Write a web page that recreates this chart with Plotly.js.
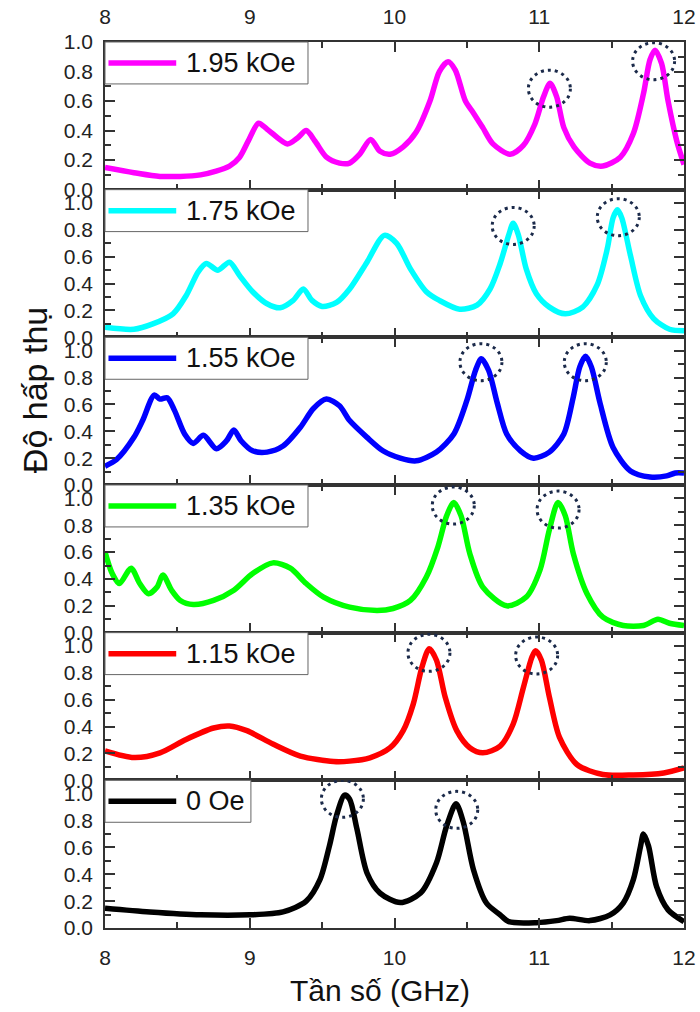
<!DOCTYPE html>
<html><head><meta charset="utf-8">
<script src="https://cdn.plot.ly/plotly-3.0.1.min.js"></script>
<style>html,body{margin:0;padding:0;background:#fff}#chart{width:700px;height:1012px}</style>
</head><body><div id="chart"></div>
<script>
// ---------- data ----------
const seriesNames = ["1.95 kOe", "1.75 kOe", "1.55 kOe", "1.35 kOe", "1.15 kOe", "0 Oe"];
const seriesColors = ["#ff00ff", "#00ffff", "#0000ff", "#00ff00", "#ff0000", "#000000"];

const freq195 = [8.0, 8.2, 8.38, 8.66, 8.86, 8.93, 8.99, 9.06, 9.12, 9.26, 9.33, 9.39, 9.45, 9.53, 9.62, 9.69, 9.76, 9.835, 9.90, 9.97, 10.06, 10.15, 10.245, 10.31, 10.37, 10.42, 10.49, 10.545, 10.61, 10.68, 10.80, 10.89, 10.97, 11.03, 11.075, 11.12, 11.17, 11.24, 11.35, 11.44, 11.56, 11.65, 11.72, 11.765, 11.80, 11.845, 11.89, 11.95, 12.0];
const abs195 = [0.15, 0.115, 0.09, 0.10, 0.16, 0.22, 0.33, 0.45, 0.41, 0.31, 0.35, 0.40, 0.33, 0.22, 0.18, 0.18, 0.24, 0.34, 0.26, 0.24, 0.29, 0.39, 0.60, 0.80, 0.866, 0.81, 0.60, 0.52, 0.42, 0.31, 0.24, 0.30, 0.445, 0.63, 0.72, 0.63, 0.42, 0.29, 0.18, 0.16, 0.22, 0.38, 0.65, 0.88, 0.945, 0.855, 0.60, 0.33, 0.17];

const freq175 = [8.0, 8.2, 8.33, 8.47, 8.56, 8.645, 8.70, 8.78, 8.86, 8.93, 9.02, 9.12, 9.21, 9.30, 9.37, 9.43, 9.50, 9.60, 9.69, 9.81, 9.93, 10.015, 10.11, 10.22, 10.31, 10.45, 10.57, 10.66, 10.73, 10.79, 10.82, 10.855, 10.91, 10.98, 11.07, 11.18, 11.30, 11.40, 11.47, 11.51, 11.54, 11.57, 11.63, 11.70, 11.79, 11.90, 12.0];
const abs175 = [0.075, 0.06, 0.10, 0.175, 0.31, 0.49, 0.55, 0.50, 0.56, 0.46, 0.34, 0.25, 0.22, 0.275, 0.36, 0.275, 0.23, 0.26, 0.36, 0.56, 0.76, 0.70, 0.51, 0.34, 0.275, 0.21, 0.24, 0.36, 0.55, 0.765, 0.85, 0.765, 0.51, 0.325, 0.225, 0.175, 0.225, 0.39, 0.66, 0.89, 0.95, 0.89, 0.61, 0.31, 0.14, 0.06, 0.05];

const freq155 = [8.0, 8.08, 8.2, 8.26, 8.34, 8.38, 8.43, 8.48, 8.55, 8.61, 8.68, 8.77, 8.84, 8.89, 8.94, 9.02, 9.12, 9.23, 9.35, 9.44, 9.53, 9.62, 9.69, 9.81, 9.92, 10.04, 10.15, 10.29, 10.41, 10.50, 10.56, 10.60, 10.65, 10.71, 10.775, 10.87, 10.96, 11.07, 11.17, 11.235, 11.28, 11.32, 11.36, 11.42, 11.51, 11.63, 11.765, 11.88, 11.94, 12.0];
const abs155 = [0.14, 0.19, 0.355, 0.48, 0.67, 0.64, 0.65, 0.556, 0.38, 0.31, 0.37, 0.27, 0.33, 0.41, 0.33, 0.255, 0.245, 0.29, 0.43, 0.57, 0.64, 0.59, 0.48, 0.355, 0.255, 0.20, 0.18, 0.245, 0.38, 0.63, 0.855, 0.94, 0.855, 0.61, 0.38, 0.255, 0.20, 0.245, 0.38, 0.655, 0.88, 0.96, 0.88, 0.61, 0.28, 0.105, 0.06, 0.068, 0.09, 0.09];

const freq135 = [8.0, 8.05, 8.10, 8.18, 8.24, 8.30, 8.36, 8.40, 8.46, 8.52, 8.61, 8.75, 8.89, 9.02, 9.16, 9.28, 9.39, 9.51, 9.69, 9.88, 9.99, 10.11, 10.22, 10.30, 10.36, 10.41, 10.46, 10.52, 10.61, 10.775, 10.91, 11.005, 11.07, 11.13, 11.18, 11.235, 11.33, 11.44, 11.58, 11.72, 11.82, 11.90, 12.0];
const abs135 = [0.60, 0.44, 0.366, 0.48, 0.366, 0.29, 0.34, 0.43, 0.316, 0.24, 0.21, 0.24, 0.316, 0.44, 0.52, 0.48, 0.366, 0.265, 0.19, 0.165, 0.18, 0.24, 0.415, 0.64, 0.87, 0.97, 0.87, 0.59, 0.34, 0.20, 0.265, 0.466, 0.767, 0.97, 0.87, 0.59, 0.29, 0.115, 0.053, 0.053, 0.10, 0.07, 0.053];

const freq115 = [8.0, 8.2, 8.38, 8.56, 8.75, 8.86, 8.98, 9.16, 9.35, 9.58, 9.69, 9.83, 9.97, 10.06, 10.13, 10.19, 10.24, 10.29, 10.35, 10.43, 10.52, 10.61, 10.73, 10.82, 10.89, 10.95, 10.975, 11.015, 11.07, 11.14, 11.26, 11.44, 11.65, 11.86, 12.0];
const abs115 = [0.22, 0.17, 0.205, 0.305, 0.39, 0.405, 0.37, 0.27, 0.18, 0.14, 0.143, 0.168, 0.243, 0.37, 0.57, 0.845, 0.98, 0.895, 0.62, 0.37, 0.243, 0.205, 0.255, 0.42, 0.69, 0.92, 0.965, 0.895, 0.62, 0.32, 0.118, 0.043, 0.04, 0.055, 0.092];

const freq0 = [8.0, 8.31, 8.66, 9.0, 9.23, 9.39, 9.485, 9.55, 9.60, 9.655, 9.69, 9.74, 9.81, 9.90, 10.04, 10.18, 10.29, 10.36, 10.425, 10.475, 10.545, 10.635, 10.73, 10.79, 10.98, 11.12, 11.21, 11.35, 11.49, 11.58, 11.65, 11.70, 11.72, 11.755, 11.81, 11.89, 12.0];
const abs0 = [0.148, 0.12, 0.098, 0.098, 0.12, 0.2, 0.36, 0.61, 0.84, 0.99, 0.96, 0.74, 0.41, 0.26, 0.19, 0.26, 0.486, 0.76, 0.925, 0.79, 0.436, 0.186, 0.098, 0.047, 0.04, 0.055, 0.073, 0.055, 0.098, 0.186, 0.36, 0.61, 0.70, 0.61, 0.31, 0.135, 0.047];

// highlighted peaks (dotted circles)
const circleX195 = [11.07, 11.79];   const circleY195 = [0.684, 0.87];
const circleX175 = [10.82, 11.546];  const circleY175 = [0.83, 0.895];
const circleX155 = [10.597, 11.318]; const circleY155 = [0.915, 0.915];
const circleX135 = [10.406, 11.13];  const circleY135 = [0.947, 0.917];
const circleX115 = [10.238, 10.982]; const circleY115 = [0.95, 0.93];
const circleX0 = [9.64, 10.43];      const circleY0 = [0.962, 0.88];

const xTickVals = [8, 9, 10, 11, 12];
const yTickVals = [0, 0.2, 0.4, 0.6, 0.8, 1.0];
const yTickText = ["0.0", "0.2", "0.4", "0.6", "0.8", "1.0"];
const xTitle = "Tần số (GHz)";
const yTitle = "Độ hấp thụ";

// ---------- build ----------
const freqs = [freq195, freq175, freq155, freq135, freq115, freq0];
const absVals = [abs195, abs175, abs155, abs135, abs115, abs0];
const circX = [circleX195, circleX175, circleX155, circleX135, circleX115, circleX0];
const circY = [circleY195, circleY175, circleY155, circleY135, circleY115, circleY0];
const yTops = [1.0, 1.1, 1.1, 1.1, 1.1, 1.1];

const FONT = "Liberation Sans, Arial, sans-serif";
const AX = "#333333";
const N = 6;
const traces = [];
const shapes = [];
const annotations = [];
const layout = {
  width: 700, height: 1012,
  margin: {l: 105, r: 16, t: 42, b: 84},
  paper_bgcolor: "#ffffff", plot_bgcolor: "#ffffff",
  showlegend: false,
  font: {family: FONT, color: "#222222"}
};

for (let i = 0; i < N; i++) {
  const s = i === 0 ? "" : String(i + 1);
  const xa = "x" + s, ya = "y" + s;
  traces.push({
    x: freqs[i], y: absVals[i], xaxis: xa, yaxis: ya,
    type: "scatter", mode: "lines", name: seriesNames[i],
    line: {color: seriesColors[i], width: 5.5, shape: "spline", smoothing: 0.8},
    hoverinfo: "x+y+name"
  });
  const top = 1 - i / N, bot = 1 - (i + 1) / N;
  const isTop = i === 0, isBot = i === N - 1;
  layout["xaxis" + s] = {
    domain: [0, 1], anchor: ya, range: [8, 12],
    side: isTop ? "top" : "bottom",
    showticklabels: isTop || isBot,
    tickvals: xTickVals, ticks: "inside", ticklen: 10, tickwidth: 1.5, tickcolor: AX,
    minor: {ticks: "inside", ticklen: 6, tickwidth: 1.5, tickcolor: AX, dtick: 0.5, tick0: 8, showgrid: false},
    showline: true, linecolor: AX, linewidth: 1.5, mirror: "ticks",
    showgrid: false, zeroline: false,
    tickfont: {family: FONT, size: 21, color: "#222222"},
    ticklabelstandoff: isBot ? 10 : 8
  };
  if (!isBot) layout["xaxis" + s].matches = "x6";
  layout["yaxis" + s] = {
    domain: [bot, top], anchor: xa, range: [0, yTops[i] + 0.0001],
    tickvals: yTickVals, ticktext: yTickText,
    ticks: "inside", ticklen: 10, tickwidth: 1.5, tickcolor: AX,
    minor: {ticks: "inside", ticklen: 6, tickwidth: 1.5, tickcolor: AX, dtick: 0.1, tick0: 0, showgrid: false},
    showline: true, linecolor: AX, linewidth: 1.5, mirror: "ticks",
    showgrid: false, zeroline: false,
    tickfont: {family: FONT, size: 21, color: "#222222"},
    ticklabelstandoff: 6
  };
  // dotted circles around highlighted peaks
  for (let k = 0; k < circX[i].length; k++) {
    shapes.push({
      type: "circle", xref: xa, yref: ya,
      xsizemode: "pixel", ysizemode: "pixel",
      xanchor: circX[i][k], yanchor: circY[i][k],
      x0: -21, x1: 21, y0: -18.5, y1: 18.5,
      line: {color: "#1b2a4a", width: 3, dash: "3px,4px"},
      layer: "above"
    });
  }
  // legend box
  const isOe = seriesNames[i].indexOf("kOe") < 0;
  shapes.push({
    type: "rect", xref: xa + " domain", yref: ya + " domain",
    x0: 0, x1: isOe ? 0.252 : 0.3506, y0: 0.716, y1: 1,
    line: {color: "#666666", width: 1}, fillcolor: "#ffffff", layer: "above"
  });
  shapes.push({
    type: "line", xref: xa + " domain", yref: ya + " domain",
    x0: 0.006, x1: 0.123, y0: 0.858, y1: 0.858,
    line: {color: seriesColors[i], width: 5.5}, layer: "above"
  });
  annotations.push({
    xref: xa + " domain", yref: ya + " domain",
    x: 0.136, y: 0.858, xanchor: "left", yanchor: "middle",
    text: seriesNames[i], showarrow: false,
    font: {family: FONT, size: 27, color: "#111111"}
  });
}

annotations.push({
  xref: "paper", yref: "paper", x: 0.475, y: -0.07,
  xanchor: "center", yanchor: "middle", showarrow: false,
  text: xTitle, font: {family: FONT, size: 30, color: "#111111"}
});
annotations.push({
  xref: "paper", yref: "paper", x: -0.121, y: 0.607,
  xanchor: "center", yanchor: "middle", showarrow: false, textangle: -90,
  text: yTitle, font: {family: FONT, size: 34, color: "#111111"}
});

layout.shapes = shapes;
layout.annotations = annotations;

Plotly.newPlot("chart", traces, layout, {displayModeBar: false, responsive: false});
</script>
</body></html>
